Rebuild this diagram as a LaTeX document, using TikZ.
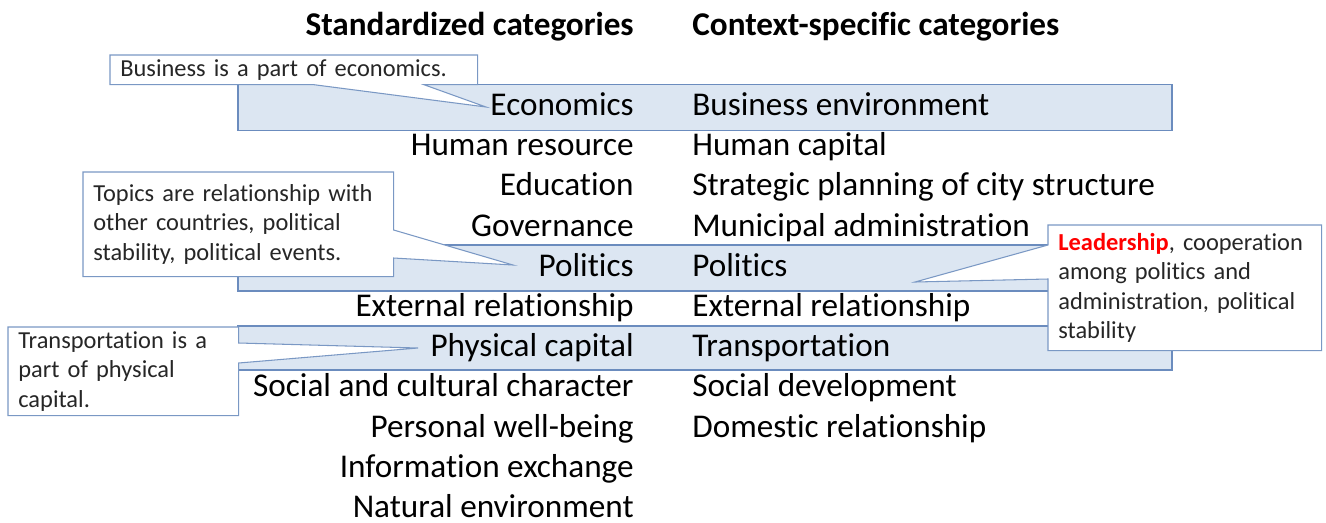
\documentclass[tikz,border=0pt]{standalone}
\usepackage{fontspec}
\setmainfont{Carlito}[Ligatures=NoCommon]
\usetikzlibrary{calc}
\pgfdeclarelayer{bands}
\pgfdeclarelayer{notes}
\pgfsetlayers{bands,notes,main}

\definecolor{bandfill}{HTML}{DCE6F2}
\definecolor{bandline}{HTML}{6B8CBE}
\definecolor{noteline}{HTML}{7A98C4}
\definecolor{notetext}{HTML}{262626}

\begin{document}
\begin{tikzpicture}[x=0.02cm, y=-0.02cm,
    heading/.style ={font=\fontsize{18.9}{23}\selectfont\bfseries, inner sep=0pt},
    stdcat/.style ={font=\fontsize{18.9}{23}\selectfont, inner sep=0pt, anchor=base east},
    ctxcat/.style ={font=\fontsize{18.9}{23}\selectfont, inner sep=0pt, anchor=base west},
    band/.style ={draw=bandline, line width=1pt, fill=bandfill},
    note/.style ={anchor=north west, inner xsep=0.2cm, inner ysep=0pt, align=left,
                  text=notetext, font=\fontsize{13.9}{16.8}\selectfont},
    outline/.style ={draw=noteline, line width=0.6pt, fill=white}]
   \useasboundingbox (0,0) rectangle (1326,522);

   % column headings
   \node[heading, anchor=base east] (H1) at (634,35) {Standardized categories};
   \node[heading, anchor=base west] (H2) at (692,35) {Context-specific categories};

   % standardized categories
   \node[stdcat] (S1)  at (634,115.5) {Economics};
   \node[stdcat] (S2)  at (634,155.7) {Human resource};
   \node[stdcat] (S3)  at (634,195.9) {Education};
   \node[stdcat] (S4)  at (634,236.1) {Governance};
   \node[stdcat] (S5)  at (634,276.3) {Politics};
   \node[stdcat] (S6)  at (634,316.5) {External relationship};
   \node[stdcat] (S7)  at (634,356.7) {Physical capital};
   \node[stdcat] (S8)  at (634,396.9) {Social and cultural character};
   \node[stdcat] (S9)  at (634,437.1) {Personal well-being};
   \node[stdcat] (S10) at (634,477.3) {Information exchange};
   \node[stdcat] (S11) at (634,517.5) {Natural environment};

   % context-specific categories
   \node[ctxcat] (C1) at (692,115.5) {Business environment};
   \node[ctxcat] (C2) at (692,155.7) {Human capital};
   \node[ctxcat] (C3) at (692,195.9) {Strategic planning of city structure};
   \node[ctxcat] (C4) at (692,236.1) {Municipal administration};
   \node[ctxcat] (C5) at (692,276.3) {Politics};
   \node[ctxcat] (C6) at (692,316.5) {External relationship};
   \node[ctxcat] (C7) at (692,356.7) {Transportation};
   \node[ctxcat] (C8) at (692,396.9) {Social development};
   \node[ctxcat] (C9) at (692,437.1) {Domestic relationship};

   % highlighted rows
   \coordinate (bandL) at (238,0);
   \coordinate (bandR) at (1172,0);
   \begin{pgfonlayer}{bands}
   \draw[band] ($(bandL |- S1.base)+(0,-31)$) rectangle ($(bandR |- S1.base)+(0,15)$);
   \draw[band] ($(bandL |- S5.base)+(0,-31)$) rectangle ($(bandR |- S5.base)+(0,15)$);
   \draw[band] ($(bandL |- S7.base)+(0,-31)$) rectangle ($(bandR |- S7.base)+(0,13)$);
   \end{pgfonlayer}

   % callouts
   \node[note, minimum width=7.34cm, minimum height=0.58cm, text width=6.94cm] (busnote) at (110,55)
      {Business is a part of economics.};
   \node[note, minimum width=6.2cm, minimum height=2.08cm, text width=5.8cm] (topnote) at (83,172)
      {Topics are relationship with\\ other countries, political\\ stability, political events.};
   \node[note, minimum width=4.6cm, minimum height=1.76cm, text width=4.2cm] (trnote) at (8,327)
      {Transportation is a\\ part of physical\\ capital.};
   \node[note, minimum width=5.46cm, minimum height=2.5cm, text width=5.06cm] (leadnote) at (1048,225)
      {{\color{red}\bfseries Leadership}, cooperation\\ among politics and\\ administration, political\\ stability};

   \coordinate (ecotip) at (486,107);
   \coordinate (poltip) at (513,265);
   \coordinate (phytip) at (418,348);
   \coordinate (leadtip) at (915,282);

   \begin{pgfonlayer}{notes}
   \draw[outline] (busnote.north west) -- (busnote.north east) -- (busnote.south east)
      -- ($(busnote.south west)+(314,0)$) -- (ecotip) -- ($(busnote.south west)+(204,0)$)
      -- (busnote.south west) -- cycle;
   \draw[outline] (topnote.north west) -- (topnote.north east) -- ($(topnote.north east)+(0,58)$)
      -- (poltip) -- ($(topnote.north east)+(0,86)$) -- (topnote.south east)
      -- (topnote.south west) -- cycle;
   \draw[outline] (trnote.north west) -- (trnote.north east) -- ($(trnote.north east)+(0,16)$)
      -- (phytip) -- ($(trnote.north east)+(0,36)$) -- (trnote.south east)
      -- (trnote.south west) -- cycle;
   \draw[outline] (leadnote.north west) -- (leadnote.north east) -- (leadnote.south east)
      -- (leadnote.south west) -- ($(leadnote.north west)+(0,54)$) -- (leadtip)
      -- ($(leadnote.north west)+(0,20)$) -- cycle;
   \end{pgfonlayer}
 \end{tikzpicture}
\end{document}
